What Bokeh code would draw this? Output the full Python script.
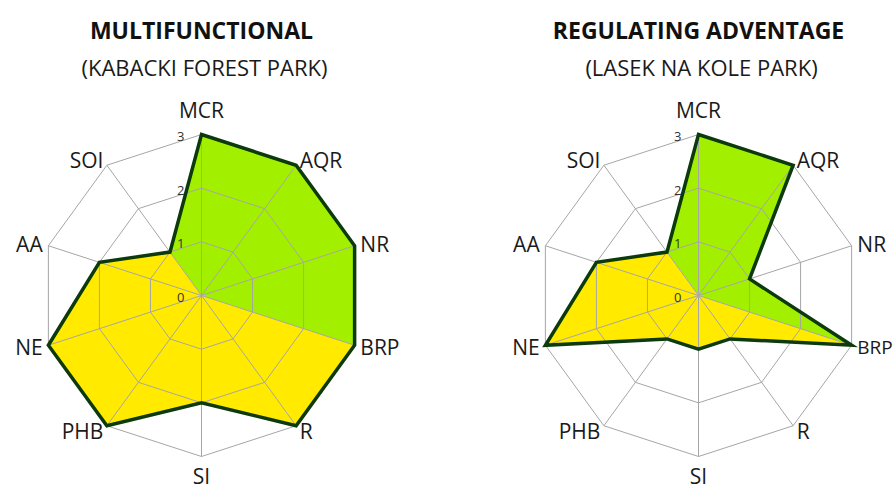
import numpy as np
from bokeh.plotting import figure
from bokeh.models import Range1d, ColumnDataSource
from bokeh.core.properties import value
from bokeh.embed import file_html
from bokeh.resources import INLINE

# ---------------- data ----------------
categories = ["MCR", "AQR", "NR", "BRP", "R", "SI", "PHB", "NE", "AA", "SOI"]
tick_values = [0, 1, 2, 3]
tick_labels = ["0", "1", "2", "3"]

left_title = "MULTIFUNCTIONAL"
left_subtitle = "(KABACKI FOREST PARK)"
right_title = "REGULATING ADVENTAGE"
right_subtitle = "(LASEK NA KOLE PARK)"

# green = regulating series, yellow = other series (Excel filled radar, zeros pass through centre)
left_green = [3, 3, 3, 3, 0, 0, 0, 0, 0, 1]
left_yellow = [0, 0, 0, 3, 3, 2, 3, 3, 2, 1]
right_green = [3, 3, 1, 3, 0, 0, 0, 0, 0, 1]
right_yellow = [0, 0, 0, 3, 1, 1, 1, 3, 2, 1]

# ---------------- style / layout ----------------
GREEN = "#a2f000"
YELLOW = "#ffea00"
OUTLINE = "#0c3a0c"
GRID = "#a6a6a6"
FONT = "Open Sans"
VMAX = 3
RAD = 161
CY = 295

p = figure(width=895, height=488, output_backend="svg", toolbar_location=None,
           x_range=Range1d(0, 895), y_range=Range1d(488, 0), min_border=0,
           outline_line_color=None, background_fill_color="white")
p.axis.visible = False
p.grid.visible = False

n = len(categories)
ang = np.deg2rad(90 - 360.0 / n * np.arange(n))


def pts(cx, vals):
    r = np.asarray(vals, dtype=float) / VMAX * RAD
    return list(cx + r * np.cos(ang)), list(CY - r * np.sin(ang))


def radar(cx, green, yellow, title, subtitle, label_size):
    xs, ys = pts(cx, yellow)
    p.patch(xs, ys, fill_color=YELLOW, line_color=None)
    xs, ys = pts(cx, green)
    p.patch(xs, ys, fill_color=GREEN, line_color=None)
    # grid rings
    for t in tick_values[1:]:
        xs, ys = pts(cx, [t] * n)
        p.patch(xs, ys, fill_color=None, line_color=GRID, line_width=1)
    # spokes
    ex, ey = pts(cx, [VMAX] * n)
    p.multi_line([[cx, x] for x in ex], [[CY, y] for y in ey], line_color=GRID, line_width=1)
    # outline
    outer = [max(a, b) for a, b in zip(green, yellow)]
    xs, ys = pts(cx, outer)
    p.patch(xs, ys, fill_color=None, line_color=OUTLINE, line_width=3.5, line_join="miter")
    # tick labels
    tsrc = ColumnDataSource(dict(x=[cx - 17] * len(tick_values),
                                 y=[CY - t / VMAX * RAD + 2 for t in tick_values],
                                 t=tick_labels))
    p.text("x", "y", text="t", source=tsrc, text_font=value(FONT), text_font_size="13px",
           text_align="right", text_baseline="middle", text_color="#333333")
    # category labels
    lx, ly, al = [], [], []
    for a in ang:
        c, s = np.cos(a), np.sin(a)
        if abs(c) < 0.1:
            off = 25 if s > 0 else 19
        else:
            off = 6
        lx.append(cx + (RAD + off) * c)
        ly.append(CY - (RAD + off) * s)
        al.append("center" if abs(c) < 0.1 else ("left" if c > 0 else "right"))
    csrc = ColumnDataSource(dict(x=lx, y=ly, t=categories, a=al, fs=label_size))
    p.text("x", "y", text="t", source=csrc, text_font=value(FONT), text_font_size="fs",
           text_align="a", text_baseline="middle", text_color="#1a1a1a")
    # titles
    p.text([cx], [29], text=[title], text_font=value(FONT), text_font_size="23px",
           text_font_style="bold", text_align="center", text_baseline="middle", text_color="#111111")
    p.text([cx + 3], [66], text=[subtitle], text_font=value(FONT), text_font_size="22px",
           text_align="center", text_baseline="middle", text_color="#1a1a1a")


left_sizes = ["21px"] * n
right_sizes = ["21px"] * n
right_sizes[categories.index("BRP")] = "19px"

radar(201, left_green, left_yellow, left_title, left_subtitle, left_sizes)
radar(698, right_green, right_yellow, right_title, right_subtitle, right_sizes)

open("out.html", "w").write(file_html(p, INLINE))
